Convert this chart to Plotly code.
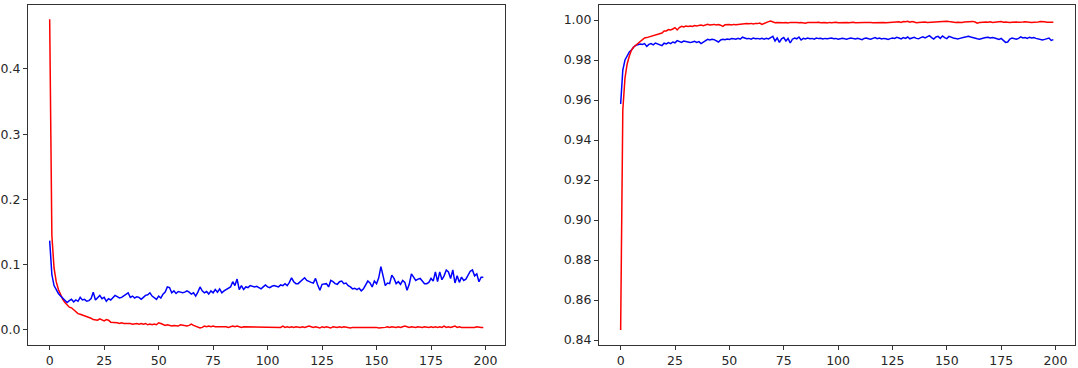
import plotly.graph_objects as go

epochs = list(range(200))

train_loss = [
    0.476, 0.145, 0.095, 0.074, 0.062, 0.053, 0.047, 0.042, 0.038, 0.035,
    0.034, 0.031, 0.027, 0.025, 0.024, 0.023, 0.022, 0.021, 0.019, 0.018,
    0.016, 0.016, 0.015, 0.017, 0.015, 0.014, 0.016, 0.015, 0.012, 0.012,
    0.011, 0.011, 0.010, 0.011, 0.010, 0.010, 0.011, 0.010, 0.009, 0.010,
    0.010, 0.009, 0.010, 0.009, 0.010, 0.008, 0.009, 0.008, 0.009, 0.008,
    0.011, 0.010, 0.008, 0.007, 0.008, 0.007, 0.006, 0.007, 0.007, 0.006,
    0.008, 0.007, 0.006, 0.006, 0.007, 0.009, 0.007, 0.006, 0.005, 0.003,
    0.004, 0.006, 0.005, 0.006, 0.005, 0.006, 0.005, 0.005, 0.006, 0.005,
    0.006, 0.005, 0.004, 0.005, 0.006, 0.005, 0.006, 0.005, 0.004, 0.005,
    0.005, 0.004, 0.005, 0.004, 0.005, 0.005, 0.004, 0.004, 0.005, 0.004,
    0.005, 0.004, 0.005, 0.004, 0.004, 0.005, 0.004, 0.006, 0.004, 0.005,
    0.004, 0.005, 0.004, 0.005, 0.004, 0.004, 0.005, 0.004, 0.005, 0.006,
    0.005, 0.004, 0.005, 0.004, 0.003, 0.005, 0.004, 0.005, 0.004, 0.003,
    0.005, 0.004, 0.004, 0.005, 0.004, 0.005, 0.004, 0.004, 0.003, 0.004,
    0.004, 0.005, 0.004, 0.004, 0.005, 0.004, 0.004, 0.005, 0.004, 0.004,
    0.004, 0.003, 0.003, 0.004, 0.004, 0.005, 0.004, 0.005, 0.004, 0.004,
    0.005, 0.004, 0.005, 0.006, 0.005, 0.004, 0.005, 0.004, 0.004, 0.005,
    0.004, 0.004, 0.005, 0.004, 0.004, 0.005, 0.004, 0.005, 0.004, 0.005,
    0.004, 0.006, 0.004, 0.005, 0.004, 0.005, 0.006, 0.004, 0.005, 0.004,
    0.004, 0.004, 0.003, 0.003, 0.004, 0.004, 0.005, 0.004, 0.004, 0.004,
]

val_loss = [
    0.137, 0.085, 0.068, 0.061, 0.056, 0.052, 0.049, 0.046, 0.042, 0.045,
    0.047, 0.043, 0.046, 0.044, 0.050, 0.046, 0.047, 0.044, 0.045, 0.048,
    0.058, 0.046, 0.049, 0.053, 0.048, 0.050, 0.044, 0.048, 0.046, 0.050,
    0.053, 0.051, 0.049, 0.050, 0.052, 0.055, 0.057, 0.050, 0.052, 0.049,
    0.051, 0.050, 0.047, 0.050, 0.053, 0.054, 0.057, 0.052, 0.050, 0.047,
    0.052, 0.049, 0.055, 0.058, 0.066, 0.065, 0.057, 0.060, 0.056, 0.059,
    0.058, 0.057, 0.058, 0.060, 0.058, 0.055, 0.057, 0.052, 0.058, 0.066,
    0.060, 0.057, 0.059, 0.055, 0.060, 0.057, 0.062, 0.058, 0.063, 0.057,
    0.060, 0.062, 0.064, 0.066, 0.074, 0.068, 0.078, 0.062, 0.068, 0.062,
    0.066, 0.065, 0.068, 0.067, 0.066, 0.067, 0.065, 0.063, 0.066, 0.069,
    0.066, 0.065, 0.067, 0.068, 0.067, 0.066, 0.069, 0.068, 0.071, 0.068,
    0.073, 0.080, 0.074, 0.071, 0.071, 0.074, 0.076, 0.080, 0.076, 0.074,
    0.073, 0.072, 0.079, 0.069, 0.061, 0.070, 0.071, 0.071, 0.066, 0.076,
    0.074, 0.071, 0.070, 0.074, 0.075, 0.071, 0.072, 0.068, 0.066, 0.063,
    0.064, 0.062, 0.064, 0.060, 0.063, 0.069, 0.075, 0.072, 0.066, 0.075,
    0.071, 0.080, 0.097, 0.083, 0.068, 0.072, 0.071, 0.084, 0.079, 0.071,
    0.074, 0.070, 0.076, 0.073, 0.061, 0.070, 0.086, 0.081, 0.076, 0.078,
    0.079, 0.075, 0.071, 0.071, 0.073, 0.079, 0.075, 0.089, 0.074, 0.089,
    0.077, 0.083, 0.092, 0.089, 0.079, 0.092, 0.072, 0.083, 0.073, 0.081,
    0.076, 0.078, 0.083, 0.090, 0.092, 0.083, 0.086, 0.074, 0.081, 0.081,
]

train_acc = [
    0.845, 0.955, 0.971, 0.978, 0.982, 0.985, 0.9865, 0.9875, 0.9885, 0.989,
    0.990, 0.991, 0.9912, 0.9915, 0.9918, 0.992, 0.9925, 0.9928, 0.993, 0.9935,
    0.9945, 0.9945, 0.9952, 0.995, 0.9955, 0.9962, 0.995, 0.9962, 0.9968, 0.9965,
    0.997, 0.9968, 0.997, 0.9968, 0.9972, 0.997, 0.9973, 0.9975, 0.9972, 0.9975,
    0.9978, 0.9975, 0.9977, 0.9978, 0.9975, 0.9977, 0.9974, 0.9968, 0.9976, 0.9978,
    0.9977, 0.9975, 0.9978, 0.9976, 0.9977, 0.9979, 0.9982, 0.9981, 0.9983, 0.9981,
    0.9983, 0.998, 0.9983, 0.9982, 0.9985, 0.9978, 0.9984, 0.9988, 0.9992, 0.9995,
    0.999, 0.9986, 0.9987, 0.9986, 0.9988, 0.9986, 0.9987, 0.9985, 0.9988, 0.9986,
    0.9987, 0.9988, 0.9986, 0.9988, 0.9987, 0.9984, 0.9987, 0.9988, 0.9986, 0.9988,
    0.9987, 0.9989, 0.9986, 0.9988, 0.9987, 0.9985, 0.9988, 0.9986, 0.9987, 0.9989,
    0.9986, 0.9987, 0.9985, 0.9988, 0.9987, 0.9986, 0.9988, 0.9989, 0.9986, 0.9987,
    0.9988, 0.9986, 0.9988, 0.9987, 0.9989, 0.9988, 0.9986, 0.9987, 0.9988, 0.9986,
    0.9987, 0.9988, 0.9986, 0.9987, 0.9988, 0.9987, 0.9989, 0.9988, 0.9991, 0.9988,
    0.9992, 0.9991, 0.9994, 0.9989, 0.9992, 0.999, 0.9986, 0.9988, 0.9989, 0.9988,
    0.999, 0.9988, 0.9989, 0.999, 0.9989, 0.9991, 0.9993, 0.9992, 0.9994, 0.9995,
    0.9994, 0.9992, 0.999, 0.9988, 0.9987, 0.9989, 0.9987, 0.9988, 0.999, 0.9991,
    0.9989, 0.9991, 0.9993, 0.999, 0.9984, 0.9987, 0.9989, 0.9988, 0.999, 0.9989,
    0.9991, 0.9988, 0.999, 0.9989, 0.9991, 0.9992, 0.9989, 0.999, 0.9988, 0.9987,
    0.9989, 0.9991, 0.999, 0.9989, 0.9988, 0.999, 0.9991, 0.9989, 0.9988, 0.9987,
    0.9989, 0.9988, 0.999, 0.9992, 0.9993, 0.9991, 0.9989, 0.9988, 0.999, 0.9989,
]

val_acc = [
    0.958, 0.975, 0.980, 0.982, 0.984, 0.985, 0.9865, 0.9873, 0.9878, 0.9880,
    0.9878, 0.9882, 0.9868, 0.9878, 0.9882, 0.9876, 0.9885, 0.9880, 0.9878, 0.9872,
    0.9884, 0.9880, 0.9887, 0.9882, 0.9890, 0.9886, 0.9897, 0.9893, 0.9888, 0.9895,
    0.9893, 0.9890, 0.9887, 0.9890, 0.9893, 0.9888, 0.9892, 0.9882, 0.9890, 0.9895,
    0.9903, 0.9900, 0.9904, 0.9902, 0.9896, 0.9890, 0.9900, 0.9904, 0.9901, 0.9905,
    0.9903, 0.9907, 0.9906, 0.9904, 0.9908, 0.9904, 0.9914, 0.9909, 0.9906, 0.9908,
    0.9904, 0.9910, 0.9906, 0.9908, 0.9905, 0.9909, 0.9904, 0.9908, 0.9905, 0.9912,
    0.9918, 0.9895, 0.9910, 0.9888, 0.9906, 0.9912, 0.9895, 0.9908, 0.9885, 0.9904,
    0.9910, 0.9906, 0.9915, 0.9900, 0.9908, 0.9905, 0.9910, 0.9906, 0.9908, 0.9904,
    0.9910, 0.9907, 0.9909, 0.9905, 0.9908, 0.9906, 0.9909, 0.9910, 0.9906, 0.9908,
    0.9904, 0.9907, 0.9909, 0.9906, 0.9904, 0.9908, 0.9910, 0.9907, 0.9905, 0.9908,
    0.9906, 0.9902, 0.9908, 0.9910, 0.9906, 0.9904, 0.9908, 0.9912, 0.9907, 0.9910,
    0.9905, 0.9908, 0.9906, 0.9903, 0.9907, 0.9910, 0.9908, 0.9913, 0.9910, 0.9905,
    0.9912, 0.9908, 0.9915, 0.9906, 0.9910, 0.9913, 0.9908, 0.9906, 0.9912, 0.9916,
    0.9910, 0.9914, 0.9922, 0.9912, 0.9905, 0.9915, 0.9918, 0.9908, 0.9920, 0.9912,
    0.9907, 0.9918, 0.9912, 0.9910, 0.9908, 0.9905, 0.9908, 0.9912, 0.9914, 0.9916,
    0.9919, 0.9915, 0.9911, 0.9908, 0.9906, 0.9904, 0.9908, 0.9910, 0.9912, 0.9914,
    0.9910, 0.9912, 0.9910, 0.9906, 0.9903, 0.9908, 0.9898, 0.9888, 0.9890, 0.9905,
    0.9910, 0.9908, 0.9904, 0.9908, 0.9916, 0.9910, 0.9912, 0.9908, 0.9914, 0.9910,
    0.9912, 0.9908, 0.9906, 0.9904, 0.9900, 0.9903, 0.9905, 0.9910, 0.9898, 0.9902,
]

x_ticks = [0, 25, 50, 75, 100, 125, 150, 175, 200]
loss_ticks = [0.0, 0.1, 0.2, 0.3, 0.4]
acc_ticks = [0.84, 0.86, 0.88, 0.90, 0.92, 0.94, 0.96, 0.98, 1.00]

RED = "#ff0000"
BLUE = "#0000ff"

fig = go.Figure()
fig.add_trace(go.Scatter(x=epochs, y=train_loss, mode="lines",
                         line=dict(color=RED, width=1.5), xaxis="x", yaxis="y"))
fig.add_trace(go.Scatter(x=epochs, y=val_loss, mode="lines",
                         line=dict(color=BLUE, width=1.5), xaxis="x", yaxis="y"))
fig.add_trace(go.Scatter(x=epochs, y=val_acc, mode="lines",
                         line=dict(color=BLUE, width=1.5), xaxis="x2", yaxis="y2"))
fig.add_trace(go.Scatter(x=epochs, y=train_acc, mode="lines",
                         line=dict(color=RED, width=1.5), xaxis="x2", yaxis="y2"))

W, H = 1078, 368
ax_common = dict(showline=True, mirror=True, linecolor="#333333", linewidth=1,
                 ticks="outside", ticklen=4, tickcolor="#333333", tickwidth=1,
                 showgrid=False, zeroline=False, automargin=False,
                 tickfont=dict(family="DejaVu Sans", size=12.5, color="#262626"))

fig.update_layout(
    width=W, height=H,
    margin=dict(l=0, r=0, t=0, b=0),
    paper_bgcolor="white", plot_bgcolor="white",
    showlegend=False,
    xaxis=dict(domain=[28 / W, 505 / W], range=[-9.95, 208.95],
               tickvals=x_ticks, anchor="y", **ax_common),
    yaxis=dict(domain=[(H - 345) / H, (H - 5) / H], range=[-0.023, 0.498],
               tickvals=loss_ticks, tickformat=".1f", anchor="x", **ax_common),
    xaxis2=dict(domain=[599 / W, 1075 / W], range=[-9.95, 208.95],
                tickvals=x_ticks, anchor="y2", **ax_common),
    yaxis2=dict(domain=[(H - 345) / H, (H - 5) / H], range=[0.8375, 1.0075],
                tickvals=acc_ticks, tickformat=".2f", anchor="x2", **ax_common),
)

fig.write_html("out.html", config={"displayModeBar": False},
               post_script="document.body.style.margin='0';document.body.style.overflow='hidden';")
